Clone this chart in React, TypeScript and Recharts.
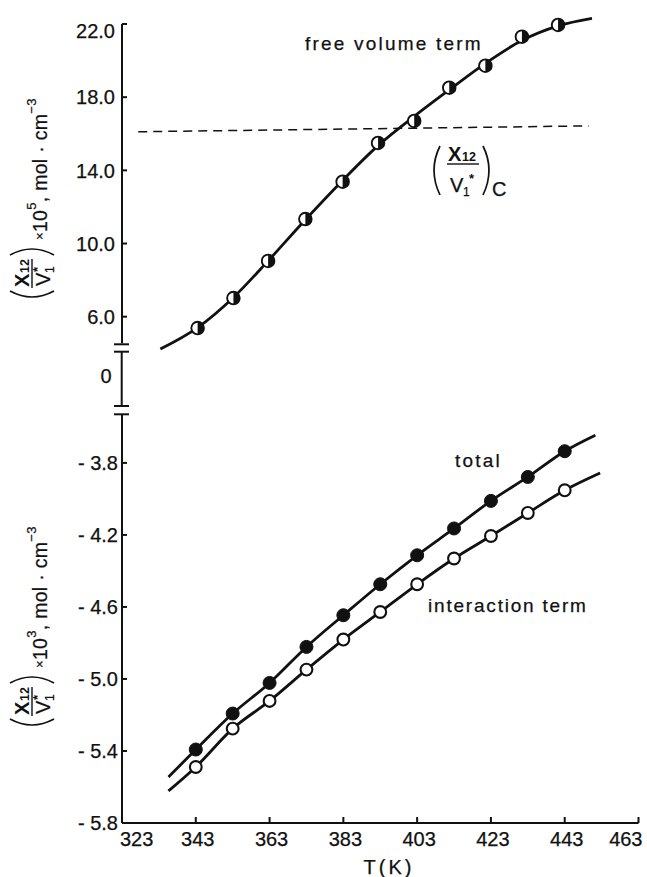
import React from 'react';
import { ComposedChart, Line, XAxis, YAxis, ReferenceLine } from 'recharts';

const FONT = '"Liberation Sans", Arial, sans-serif';
const INK = '#111';

// temperatures (K) of the measured points
const temps = [343, 353, 363, 373, 383, 393, 403, 413, 423, 433, 443];
// upper panel markers sit slightly left of the nominal temperatures in the figure
const tempsFree = [343.5, 353.2, 362.6, 372.7, 382.8, 392.4, 402.2, 411.7, 421.5, 431.4, 441.2];

// (X12/V1*) x 10^5, free volume term
const freeVolume = [5.38, 7.02, 9.05, 11.34, 13.38, 15.5, 16.7, 18.52, 19.72, 21.31, 21.95];
// (X12/V1*) x 10^3
const total = [-5.392, -5.192, -5.022, -4.822, -4.646, -4.474, -4.313, -4.164, -4.011, -3.878, -3.735];
const interaction = [-5.489, -5.276, -5.122, -4.948, -4.781, -4.628, -4.474, -4.331, -4.206, -4.078, -3.952];

// drawn smooth curves
const freeCurveT = [333.4, 343.5, 353.2, 362.6, 372.7, 382.8, 392.4, 402.2, 411.7, 421.5, 431.4, 441.2, 450.4];
const freeCurveV = [4.23, 5.4, 7.05, 9.05, 11.3, 13.45, 15.35, 16.95, 18.4, 19.85, 21.1, 21.9, 22.31];
const totalCurveT = [335.6, 343, 353, 363, 373, 383, 393, 403, 413, 423, 433, 443, 451.3];
const totalCurveV = [-5.544, -5.392, -5.192, -5.022, -4.822, -4.646, -4.474, -4.313, -4.164, -4.011, -3.878, -3.735, -3.646];
const interCurveT = [335.6, 343, 353, 363, 373, 383, 393, 403, 413, 423, 433, 443, 452.6];
const interCurveV = [-5.622, -5.489, -5.276, -5.122, -4.948, -4.781, -4.628, -4.474, -4.331, -4.206, -4.078, -3.952, -3.856];

// (X12/V1*)c critical value, dashed line
const criticalT = [327.4, 449.5];
const criticalV = [16.11, 16.43];

const xTicks = [323, 343, 363, 383, 403, 423, 443, 463];
const upperTicks = [6, 10, 14, 18, 22];
const lowerTicks = [-5.8, -5.4, -5.0, -4.6, -4.2, -3.8];

const zip = (xs: number[], ys: number[]) => xs.map((t, i) => ({ t, v: ys[i] }));

// a thin outline makes the text about as heavy as the print
const heavy = { stroke: INK, strokeWidth: 0.25 };

const HalfDot = (props: any) => {
  const { cx, cy } = props;
  if (cx == null || cy == null) return null;
  const r = 6.3;
  return (
    <g key={props.key}>
      <circle cx={cx} cy={cy} r={r} fill="#fff" stroke={INK} strokeWidth={1.9} />
      <path d={`M${cx},${cy - r} A${r},${r} 0 0 1 ${cx},${cy + r} Z`} fill={INK} />
    </g>
  );
};

const FullDot = (props: any) => {
  const { cx, cy } = props;
  if (cx == null || cy == null) return null;
  return <circle key={props.key} cx={cx} cy={cy} r={6.5} fill={INK} stroke={INK} strokeWidth={1} />;
};

const OpenDot = (props: any) => {
  const { cx, cy } = props;
  if (cx == null || cy == null) return null;
  return <circle key={props.key} cx={cx} cy={cy} r={5.9} fill="#fff" stroke={INK} strokeWidth={2.1} />;
};

const YTick = (props: any) => {
  const { x, y, payload, gap, fmt, shift } = props;
  const extra = shift ? shift(payload.value) : 0;
  return (
    <g>
      <line x1={x} y1={y} x2={x + 5} y2={y} stroke={INK} strokeWidth={2} />
      <text x={x - gap} y={y + extra} dy="0.36em" textAnchor="end" fontSize={20} fontFamily={FONT} fill={INK} {...heavy}>
        {fmt(payload.value)}
      </text>
    </g>
  );
};

const XTick = (props: any) => {
  const { x, y, payload } = props;
  const v = payload.value;
  const anchor = v === 323 ? 'start' : v === 463 ? 'end' : 'middle';
  const tx = v === 323 ? x - 2 : v === 463 ? x + 4 : x + 2;
  return (
    <g>
      {v !== 323 && <line x1={x} x2={x} y1={y} y2={y - 6} stroke={INK} strokeWidth={2} />}
      <text x={tx} y={y + 23} textAnchor={anchor} fontSize={20} fontFamily={FONT} fill={INK} {...heavy}>
        {v}
      </text>
    </g>
  );
};

const YTitle = ({ cy, exp }: { cy: number; exp: string }) => (
  <g transform={`translate(32, ${cy}) rotate(-90)`} fill={INK} fontFamily={FONT}>
    <path d="M -91 -22 Q -103 0 -91 22" fill="none" stroke={INK} strokeWidth={1.7} />
    <text x={-87} y={-3} fontSize={20} fontWeight="bold">X</text>
    <text x={-73} y={-3} fontSize={12.5} fontWeight="bold">12</text>
    <line x1={-88} x2={-59} y1={0} y2={0} stroke={INK} strokeWidth={1.4} />
    <text x={-86} y={18} fontSize={20} {...heavy}>V</text>
    <text x={-73} y={22} fontSize={12} {...heavy}>1</text>
    <text x={-72} y={10} fontSize={13} fontWeight="bold">*</text>
    <path d="M -55 -22 Q -43 0 -55 22" fill="none" stroke={INK} strokeWidth={1.7} />
    <text x={-40} y={15} fontSize={19.5} letterSpacing={0.3} {...heavy}>
      <tspan fontSize={13} dy={-3}>×</tspan>
      <tspan dy={3}>10</tspan>
      <tspan fontSize={13} dy={-11}>{exp}</tspan>
      <tspan dy={11}>, mol · cm</tspan>
      <tspan fontSize={13} dy={-11}>−3</tspan>
    </text>
  </g>
);

const upperFmt = (v: number) => v.toFixed(1);
const lowerFmt = (v: number) => `- ${Math.abs(v).toFixed(1)}`;

export default function App() {
  return (
    <div style={{ position: 'absolute', left: 0, top: 0, width: 647, height: 877, background: '#fff' }}>
      <div style={{ position: 'absolute', left: 0, top: 0 }}>
        <ComposedChart width={647} height={352} margin={{ top: 14.86, right: 8.5, bottom: 0.55, left: 0 }}>
          <XAxis type="number" dataKey="t" domain={[323, 463]} hide height={0} />
          <YAxis
            type="number"
            domain={[4.1, 22.5]}
            ticks={upperTicks}
            interval={0}
            width={122}
            axisLine={false}
            tickLine={false}
            tickSize={0}
            tickMargin={0}
            tick={(p: any) => <YTick {...p} gap={7} fmt={upperFmt} shift={(v: number) => (v === 22 ? 7 : 0)} />}
          />
          <ReferenceLine
            segment={[{ x: 323, y: 4.55 }, { x: 323, y: 22 }]}
            stroke={INK}
            strokeWidth={2}
            ifOverflow="visible"
          />
          <Line
            data={zip(criticalT, criticalV)}
            dataKey="v"
            stroke={INK}
            strokeWidth={1.5}
            strokeDasharray="9 6"
            dot={false}
            isAnimationActive={false}
          />
          <Line
            data={zip(freeCurveT, freeCurveV)}
            dataKey="v"
            type="monotone"
            stroke={INK}
            strokeWidth={2.8}
            dot={false}
            isAnimationActive={false}
          />
          <Line data={zip(tempsFree, freeVolume)} dataKey="v" stroke="none" dot={HalfDot} isAnimationActive={false} />
        </ComposedChart>
      </div>

      <div style={{ position: 'absolute', left: 0, top: 400 }}>
        <ComposedChart width={647} height={477} margin={{ top: 14.3, right: 8.5, bottom: 0, left: 0 }}>
          <XAxis
            type="number"
            dataKey="t"
            domain={[323, 463]}
            ticks={xTicks}
            interval={0}
            height={54}
            axisLine={{ stroke: INK, strokeWidth: 2 }}
            tickLine={false}
            tickSize={0}
            tickMargin={0}
            tick={(p: any) => <XTick {...p} />}
          />
          <YAxis
            type="number"
            domain={[-5.8, -3.53]}
            ticks={lowerTicks}
            interval={0}
            width={122}
            axisLine={{ stroke: INK, strokeWidth: 2 }}
            tickLine={false}
            tickSize={0}
            tickMargin={0}
            tick={(p: any) => <YTick {...p} gap={4} fmt={lowerFmt} />}
          />
          <Line
            data={zip(totalCurveT, totalCurveV)}
            dataKey="v"
            type="monotone"
            stroke={INK}
            strokeWidth={2.8}
            dot={false}
            isAnimationActive={false}
          />
          <Line
            data={zip(interCurveT, interCurveV)}
            dataKey="v"
            type="monotone"
            stroke={INK}
            strokeWidth={2.8}
            dot={false}
            isAnimationActive={false}
          />
          <Line data={zip(temps, total)} dataKey="v" stroke="none" dot={FullDot} isAnimationActive={false} />
          <Line data={zip(temps, interaction)} dataKey="v" stroke="none" dot={OpenDot} isAnimationActive={false} />
        </ComposedChart>
      </div>

      <svg
        width={647}
        height={877}
        style={{ position: 'absolute', left: 0, top: 0, pointerEvents: 'none' }}
        fontFamily={FONT}
      >
        {/* axis break between the two panels */}
        <g stroke={INK} strokeWidth={2}>
          <line x1={114} x2={129} y1={344.3} y2={344.3} />
          <line x1={114} x2={129} y1={351.7} y2={351.7} />
          <line x1={121.7} x2={121.7} y1={351.7} y2={406} />
          <line x1={114} x2={129} y1={406} y2={406} />
          <line x1={114} x2={129} y1={414.3} y2={414.3} />
        </g>
        <text x={106} y={376} dy="0.36em" textAnchor="middle" fontSize={20} fill={INK} {...heavy}>0</text>

        <YTitle cy={200} exp="5" />
        <YTitle cy={628} exp="3" />

        <text x={305} y={50} fontSize={19} letterSpacing={2.2} fill={INK} {...heavy}>free volume term</text>
        <text x={455} y={467} fontSize={19} letterSpacing={2.2} fill={INK} {...heavy}>total</text>
        <text x={428} y={612} fontSize={19} letterSpacing={1.8} fill={INK} {...heavy}>interaction term</text>
        <text x={389} y={874} fontSize={20} letterSpacing={3} textAnchor="middle" fill={INK} {...heavy}>T(K)</text>

        {/* (X12 / V1*)c label */}
        <g fill={INK}>
          <path d="M 440 146 Q 428 170 440 195" fill="none" stroke={INK} strokeWidth={1.7} />
          <text x={448} y={161} fontSize={20} fontWeight="bold">X</text>
          <text x={462} y={161} fontSize={12.5} fontWeight="bold">12</text>
          <line x1={447} x2={479} y1={164} y2={164} stroke={INK} strokeWidth={1.4} />
          <text x={450} y={192} fontSize={20} {...heavy}>V</text>
          <text x={463} y={196} fontSize={12} {...heavy}>1</text>
          <text x={469} y={183} fontSize={13} fontWeight="bold">*</text>
          <path d="M 483 146 Q 495 170 483 195" fill="none" stroke={INK} strokeWidth={1.7} />
          <text x={492} y={196} fontSize={20} {...heavy}>C</text>
        </g>
      </svg>
    </div>
  );
}
